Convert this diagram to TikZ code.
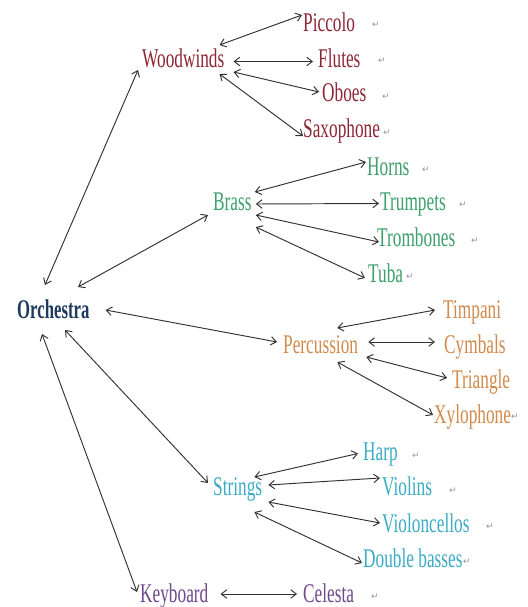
\documentclass[tikz,border=0pt]{standalone}
\usepackage{fontspec}
\setmainfont{Liberation Serif}[FakeStretch=0.64]
\newfontfamily\orchfont{Liberation Serif}[FakeStretch=0.62]
\newfontfamily\symfont{DejaVu Sans}
\usetikzlibrary{arrows.meta}
\definecolor{wwred}{RGB}{142,38,52}
\definecolor{brgreen}{RGB}{62,160,108}
\definecolor{orchblue}{RGB}{30,58,92}
\definecolor{percor}{RGB}{210,138,76}
\definecolor{strcyan}{RGB}{58,172,198}
\definecolor{keypurple}{RGB}{110,72,140}
\definecolor{retgray}{RGB}{150,150,150}
\tikzset{
  lbl/.style={anchor=base west, inner sep=0pt, text height=18pt, text depth=5pt,
    font=\fontsize{27}{30}\selectfont},
  orch/.style={lbl, text=orchblue, font=\orchfont\bfseries\fontsize{27}{30}\selectfont},
  ww/.style={lbl, text=wwred},
  br/.style={lbl, text=brgreen},
  pc/.style={lbl, text=percor},
  st/.style={lbl, text=strcyan},
  kb/.style={lbl, text=keypurple},
  ret/.style={inner sep=0pt, text=retgray, font=\symfont\fontsize{9}{9}\selectfont},
  dbl/.style={{Straight Barb[length=5.5pt,width=8.5pt]}-{Straight Barb[length=5.5pt,width=8.5pt]},
    line width=0.95pt, draw=black!80},
}
\begin{document}
\begin{tikzpicture}[x=1pt,y=-1pt]
\useasboundingbox[fill=white] (0,0) rectangle (527,607);

% main node
\node[orch] (orc) at (17,318) {Orchestra};

% woodwinds
\node[ww] (wood) at (142,68) {Woodwinds};
\node[ww] (picc) at (303,32) {Piccolo};
\node[ww] (flut) at (318,68) {Flutes};
\node[ww] (oboe) at (322,102) {Oboes};
\node[ww] (saxo) at (303,137) {Saxophone};

% brass
\node[br] (bras) at (213,210) {Brass};
\node[br] (horn) at (367,175) {Horns};
\node[br] (trum) at (380,210) {Trumpets};
\node[br] (trom) at (377,246) {Trombones};
\node[br] (tuba) at (368,282) {Tuba};

% percussion
\node[pc] (perc) at (283,353) {Percussion};
\node[pc] (timp) at (443,318) {Timpani};
\node[pc] (cymb) at (444,353) {Cymbals};
\node[pc] (tria) at (452,388) {Triangle};
\node[pc] (xylo) at (434,423) {Xylophone};

% strings
\node[st] (strg) at (213,495) {Strings};
\node[st] (harp) at (363,460) {Harp};
\node[st] (viol) at (382,495) {Violins};
\node[st] (vcel) at (382,532) {Violoncellos};
\node[st] (dbas) at (363,567) {Double basses};

% keyboard
\node[kb] (keyb) at (140,602) {Keyboard};
\node[kb] (cele) at (303,602) {Celesta};

% paragraph marks
\node[ret] (r1) at (376,25) {↵};
\node[ret] (r2) at (382,61) {↵};
\node[ret] (r3) at (386,97) {↵};
\node[ret] (r4) at (387,133) {↵};
\node[ret] (r5) at (426,170) {↵};
\node[ret] (r6) at (463,205) {↵};
\node[ret] (r7) at (475,241) {↵};
\node[ret] (r8) at (410,277) {↵};
\node[ret] (r9) at (515,417) {↵};
\node[ret] (r10) at (416,456) {↵};
\node[ret] (r11) at (453,491) {↵};
\node[ret] (r12) at (490,527) {↵};
\node[ret] (r13) at (467,562) {↵};
\node[ret] (r14) at (375,597) {↵};

% orchestra connectors
\draw[dbl] ([xshift=28pt,yshift=26.5pt]orc.west) -- ([xshift=-4pt,yshift=-8.5pt]wood.west);
\draw[dbl] ([xshift=61pt,yshift=24.5pt]orc.west) -- ([xshift=-5pt,yshift=-11.5pt]bras.west);
\draw[dbl] ([xshift=16pt,yshift=1.5pt]orc.east) -- ([xshift=-6pt,yshift=4.5pt]perc.west);
\draw[dbl] ([xshift=48pt,yshift=-18.5pt]orc.west) -- ([xshift=-5pt,yshift=5.5pt]strg.west);
\draw[dbl] ([xshift=25pt,yshift=-22.5pt]orc.west) -- ([xshift=-3pt,yshift=3.5pt]keyb.west);

% woodwinds connectors
\draw[dbl] ([xshift=-5pt,yshift=16.5pt]wood.east) -- ([xshift=-1pt,yshift=10.5pt]picc.west);
\draw[dbl] ([xshift=9pt]wood.east) -- ([xshift=-5pt]flut.west);
\draw[dbl] ([xshift=9pt,yshift=-10.5pt]wood.east) -- ([xshift=-3pt,yshift=3.5pt]oboe.west);
\draw[dbl] ([xshift=-5pt,yshift=-12.5pt]wood.east) -- ([xshift=0pt,yshift=-5.5pt]saxo.west);

% brass connectors
\draw[dbl] ([xshift=3pt,yshift=11.5pt]bras.east) -- ([xshift=-1pt,yshift=6.5pt]horn.west);
\draw[dbl] ([xshift=4pt,yshift=-0.5pt]bras.east) -- ([xshift=-1pt]trum.west);
\draw[dbl] ([xshift=4pt,yshift=-11.5pt]bras.east) -- ([xshift=2pt,yshift=-2.5pt]trom.west);
\draw[dbl] ([xshift=4pt,yshift=-23.5pt]bras.east) -- ([xshift=-3pt,yshift=-2.5pt]tuba.west);

% percussion connectors
\draw[dbl] ([xshift=-21pt,yshift=18.5pt]perc.east) -- ([xshift=-8pt,yshift=1.5pt]timp.west);
\draw[dbl] ([xshift=10pt,yshift=4.5pt]perc.east) -- ([xshift=-9pt,yshift=4.5pt]cymb.west);
\draw[dbl] ([xshift=8pt,yshift=-10.5pt]perc.east) -- ([xshift=-5pt,yshift=3.5pt]tria.west);
\draw[dbl] ([xshift=-21pt,yshift=-15.5pt]perc.east) -- ([xshift=-1pt,yshift=1.5pt]xylo.west);

% strings connectors
\draw[dbl] ([xshift=-8pt,yshift=11.5pt]strg.east) -- ([xshift=-5pt]harp.west);
\draw[dbl] ([xshift=6pt,yshift=3.5pt]strg.east) -- ([xshift=-2pt,yshift=10.5pt]viol.west);
\draw[dbl] ([xshift=6pt,yshift=-13.5pt]strg.east) -- ([xshift=-2pt,yshift=2.5pt]vcel.west);
\draw[dbl] ([xshift=-8pt,yshift=-23.5pt]strg.east) -- ([xshift=-1pt,yshift=-2.5pt]dbas.west);

% keyboard connector
\draw[dbl] ([xshift=12pt,yshift=1.5pt]keyb.east) -- ([xshift=-6pt,yshift=1.5pt]cele.west);
\end{tikzpicture}
\end{document}
